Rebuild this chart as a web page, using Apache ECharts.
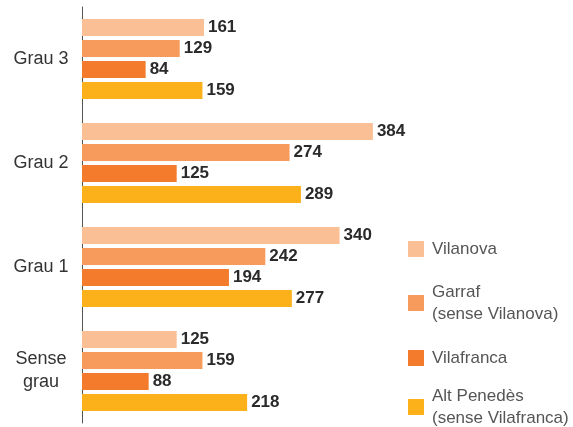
<!DOCTYPE html>
<html>
<head>
<meta charset="utf-8">
<script src="https://cdn.jsdelivr.net/npm/echarts@6/dist/echarts.min.js"></script>
<style>
  html, body { margin: 0; padding: 0; background: #fff; }
  #chart { width: 573px; height: 427px; }
</style>
</head>
<body>
<div id="chart"></div>
<script>
// categories top to bottom
const categories = ['Grau 3', 'Grau 2', 'Grau 1', 'Sense\ngrau'];
const seriesNames = ['Vilanova', 'Garraf\n(sense Vilanova)', 'Vilafranca', 'Alt Penedès\n(sense Vilafranca)'];
const vilanova = [161, 384, 340, 125];
const garraf = [129, 274, 242, 159];
const vilafranca = [84, 125, 194, 88];
const altPenedes = [159, 289, 277, 218];
const colors = ['#fbbf95', '#f79b5d', '#f47b2c', '#fcb019'];

const font = 'Liberation Sans, Arial, sans-serif';
const values = [vilanova, garraf, vilafranca, altPenedes];

const chart = echarts.init(document.getElementById('chart'));

const legendTops = [238, 281, 347, 385];
const legends = seriesNames.map((name, i) => ({
  data: [name],
  left: 408,
  top: legendTops[i],
  padding: 0,
  orient: 'vertical',
  icon: 'rect',
  itemWidth: 16,
  itemHeight: 16,
  itemGap: 0,
  selectedMode: false,
  textStyle: { fontFamily: font, fontSize: 17, color: '#555', lineHeight: 22, padding: [0, 0, 0, 3] }
}));

const option = {
  animation: false,
  grid: { left: 82, top: 7, width: 303, height: 416 },
  legend: legends,
  xAxis: {
    type: 'value',
    min: 0,
    max: 400,
    show: false
  },
  yAxis: {
    type: 'category',
    inverse: true,
    data: categories,
    axisLine: { show: true, lineStyle: { color: '#555', width: 1 } },
    axisTick: { show: false },
    axisLabel: {
      fontFamily: font,
      fontSize: 18,
      color: '#333',
      margin: 41,
      lineHeight: 23,
      align: 'center',
      padding: [0, 0, 4, 0]
    }
  },
  series: seriesNames.map((name, i) => ({
    name: name,
    type: 'bar',
    data: values[i],
    barWidth: 17,
    barGap: '24%',
    barCategoryGap: '23%',
    itemStyle: { color: colors[i] },
    label: {
      show: true,
      position: 'right',
      distance: 4,
      fontFamily: font,
      fontSize: 17,
      fontWeight: 'bold',
      color: '#2a2a2a'
    }
  }))
};

chart.setOption(option);
</script>
</body>
</html>
